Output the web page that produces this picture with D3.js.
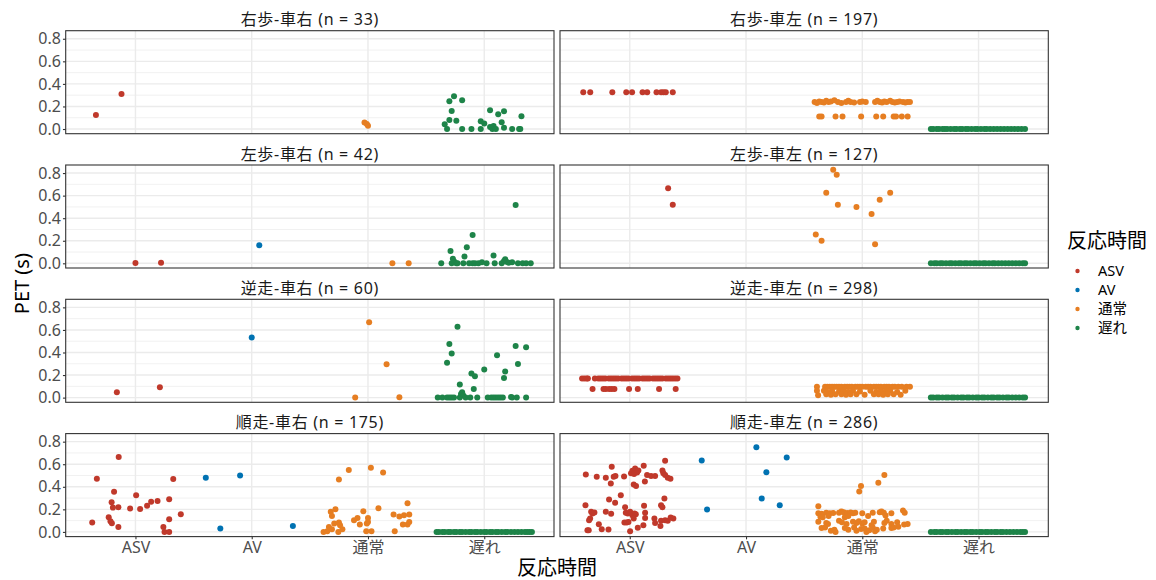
<!DOCTYPE html>
<html>
<head>
<meta charset="utf-8">
<script src="https://cdn.jsdelivr.net/npm/d3@7"></script>
<style>
  body { margin: 0; background: #fff; }
  text { font-family: "Noto Sans", "Noto Sans CJK JP", sans-serif; }
</style>
</head>
<body>
<script>
// categories / colours
const categories = ['ASV', 'AV', '通常', '遅れ']
const catColors = ['#C0392B', '#0072B2', '#E67E22', '#1E8449']
const yTicks = [0, 0.2, 0.4, 0.6, 0.8]
const yMinor = [0.1, 0.3, 0.5, 0.7]
const yMax = 0.83

const panelTitles = [
    '右歩-車右 (n = 33)', '右歩-車左 (n = 197)',
    '左歩-車右 (n = 42)', '左歩-車左 (n = 127)',
    '逆走-車右 (n = 60)', '逆走-車左 (n = 298)',
    '順走-車右 (n = 175)', '順走-車左 (n = 286)'
]

// points: [category index, jittered x position, PET]
const rwcr = [
    [0, 0.66, 0.125], [0, 0.88, 0.31],
    [2, 2.97, 0.057], [2, 2.99, 0.045], [2, 3.0, 0.03],
    [3, 3.66, 0.042], [3, 3.68, 0], [3, 3.70, 0.08], [3, 3.70, 0.247], [3, 3.72, 0.16],
    [3, 3.74, 0.29], [3, 3.76, 0.074], [3, 3.81, 0], [3, 3.81, 0.256], [3, 3.89, 0],
    [3, 3.97, 0], [3, 3.97, 0.068], [3, 4.0, 0.05], [3, 4.05, 0.167], [3, 4.05, 0.018],
    [3, 4.07, 0], [3, 4.08, 0.027], [3, 4.10, 0], [3, 4.12, 0.13], [3, 4.15, 0.06],
    [3, 4.17, 0.158], [3, 4.17, 0.012], [3, 4.24, 0], [3, 4.30, 0], [3, 4.31, 0], [3, 4.32, 0.113]
]

const rwclAsvX = [0.60, 0.66, 0.85, 0.97, 1.02, 1.11, 1.15, 1.23, 1.27, 1.29, 1.31, 1.37]
const rwclNormTop = [
    [2.59, 0.24], [2.61, 0.23], [2.63, 0.245], [2.65, 0.24], [2.67, 0.235], [2.69, 0.25],
    [2.71, 0.24], [2.73, 0.245], [2.76, 0.255], [2.79, 0.24], [2.82, 0.23], [2.86, 0.24],
    [2.88, 0.25], [2.90, 0.24], [2.93, 0.235], [2.98, 0.24], [3.00, 0.245], [3.03, 0.24],
    [3.11, 0.24], [3.13, 0.25], [3.15, 0.24], [3.17, 0.235], [3.19, 0.245], [3.21, 0.24],
    [3.24, 0.25], [3.26, 0.24], [3.28, 0.235], [3.30, 0.24], [3.32, 0.245], [3.35, 0.24],
    [3.37, 0.235], [3.39, 0.24], [3.41, 0.24]
]
const rwclNormLow = [2.63, 2.65, 2.77, 2.83, 2.99, 3.12, 3.18, 3.27, 3.29, 3.34, 3.39]
const rwclDelayX = [3.59, 3.61, 3.64, 3.66, 3.69, 3.71, 3.73, 3.76, 3.79, 3.81, 3.84, 3.86,
    3.89, 3.91, 3.94, 3.97, 3.99, 4.02, 4.05, 4.07, 4.10, 4.13, 4.16, 4.19, 4.22, 4.25,
    4.28, 4.31, 4.34, 4.37, 4.40]

const lwcr = [
    [0, 1.0, 0.003], [0, 1.22, 0.006],
    [1, 2.065, 0.16],
    [2, 3.21, 0], [2, 3.35, 0],
    [3, 3.63, 0], [3, 3.71, 0.11], [3, 3.72, 0], [3, 3.73, 0.04], [3, 3.74, 0.018],
    [3, 3.76, 0], [3, 3.77, 0], [3, 3.82, 0], [3, 3.83, 0.06], [3, 3.85, 0.142],
    [3, 3.87, 0], [3, 3.90, 0.252], [3, 3.90, 0], [3, 3.92, 0], [3, 3.95, 0],
    [3, 3.98, 0.01], [3, 4.02, 0], [3, 4.08, 0.07], [3, 4.09, 0], [3, 4.15, 0],
    [3, 4.17, 0.02], [3, 4.18, 0.035], [3, 4.19, 0.015], [3, 4.21, 0.006], [3, 4.24, 0.01],
    [3, 4.27, 0.516], [3, 4.29, 0], [3, 4.33, 0], [3, 4.36, 0], [3, 4.40, 0]
]

const lwcl = [
    [0, 1.33, 0.666], [0, 1.37, 0.52],
    [2, 2.75, 0.83], [2, 2.78, 0.785], [2, 2.69, 0.625], [2, 2.79, 0.52], [2, 2.95, 0.50],
    [2, 3.15, 0.563], [2, 3.24, 0.625], [2, 3.08, 0.437], [2, 2.60, 0.255], [2, 2.65, 0.20],
    [2, 3.11, 0.17]
]
const lwclDelayX = [3.59, 3.62, 3.64, 3.67, 3.69, 3.72, 3.75, 3.77, 3.80, 3.83, 3.85, 3.88,
    3.90, 3.93, 3.96, 3.98, 4.01, 4.04, 4.06, 4.09, 4.12, 4.14, 4.17, 4.20, 4.23, 4.26,
    4.29, 4.32, 4.35, 4.38, 4.40]

const bwcr = [
    [0, 0.84, 0.048], [0, 1.21, 0.092],
    [1, 2.0, 0.533],
    [2, 3.01, 0.667], [2, 3.16, 0.295], [2, 2.89, 0], [2, 3.27, 0.003],
    [3, 3.60, 0], [3, 3.64, 0], [3, 3.68, 0], [3, 3.70, 0], [3, 3.72, 0], [3, 3.74, 0],
    [3, 3.68, 0.31], [3, 3.70, 0.476], [3, 3.72, 0.39], [3, 3.77, 0.628], [3, 3.79, 0.116],
    [3, 3.79, 0], [3, 3.80, 0.033], [3, 3.81, 0.048], [3, 3.82, 0.018], [3, 3.84, 0],
    [3, 3.88, 0], [3, 3.89, 0.214], [3, 3.92, 0.19], [3, 3.91, 0.077], [3, 3.94, 0],
    [3, 4.0, 0.25], [3, 4.03, 0], [3, 4.06, 0], [3, 4.08, 0], [3, 4.11, 0.375],
    [3, 4.10, 0], [3, 4.12, 0], [3, 4.14, 0], [3, 4.16, 0], [3, 4.18, 0.232],
    [3, 4.17, 0.173], [3, 4.23, 0.006], [3, 4.24, 0], [3, 4.27, 0.458], [3, 4.28, 0],
    [3, 4.29, 0.298], [3, 4.36, 0.446], [3, 4.36, 0]
]

const bwclAsvTop = [0.59, 0.61, 0.63, 0.64, 0.70, 0.73, 0.75, 0.77, 0.79, 0.82, 0.84, 0.86,
    0.88, 0.90, 0.93, 0.95, 0.97, 0.99, 1.02, 1.04, 1.06, 1.08, 1.11, 1.13, 1.15, 1.17,
    1.20, 1.22, 1.24, 1.26, 1.28, 1.31, 1.33, 1.35, 1.37, 1.39, 1.41]
const bwclAsvLow = [0.68, 0.774, 0.794, 0.823, 0.845, 0.868, 0.994, 1.069, 1.252, 1.395]
const bwclNorm = [
    [2.61, 0.097], [2.61, 0.06], [2.62, 0.02],
    [2.68, 0.097], [2.70, 0.097], [2.72, 0.097], [2.74, 0.097], [2.76, 0.097], [2.78, 0.097],
    [2.80, 0.097], [2.82, 0.097], [2.85, 0.097], [2.87, 0.097], [2.89, 0.097], [2.91, 0.097],
    [2.94, 0.097], [2.96, 0.097], [2.98, 0.097], [3.00, 0.097], [3.03, 0.097], [3.05, 0.097],
    [3.07, 0.097], [3.10, 0.097], [3.12, 0.097], [3.14, 0.097], [3.16, 0.097], [3.19, 0.097],
    [3.21, 0.097], [3.23, 0.097], [3.26, 0.097], [3.28, 0.097], [3.31, 0.097], [3.34, 0.097],
    [3.38, 0.097], [3.41, 0.097],
    [2.67, 0.06], [2.70, 0.05], [2.74, 0.06], [2.80, 0.055], [2.84, 0.06], [2.88, 0.05],
    [2.92, 0.06], [2.98, 0.055], [3.07, 0.06], [3.12, 0.05], [3.16, 0.06], [3.20, 0.055],
    [3.24, 0.06], [3.30, 0.05], [3.37, 0.06],
    [2.69, 0.03], [2.73, 0.025], [2.77, 0.03], [2.82, 0.03], [2.86, 0.025], [2.90, 0.03],
    [2.95, 0.03], [3.02, 0.025], [3.10, 0.03], [3.14, 0.03], [3.18, 0.025], [3.22, 0.03],
    [3.27, 0.03], [3.33, 0.025]
]
const bwclDelayX = [3.59, 3.61, 3.64, 3.66, 3.69, 3.72, 3.74, 3.77, 3.79, 3.82, 3.85, 3.87,
    3.90, 3.92, 3.95, 3.98, 4.00, 4.03, 4.05, 4.08, 4.11, 4.13, 4.16, 4.18, 4.21, 4.24,
    4.26, 4.29, 4.32, 4.35, 4.38, 4.40]

const fwcr = [
    [0, 0.628, 0.083], [0, 0.668, 0.471], [0, 0.77, 0.13], [0, 0.785, 0.095], [0, 0.797, 0.077],
    [0, 0.795, 0.264], [0, 0.806, 0.216], [0, 0.816, 0.356], [0, 0.853, 0.219], [0, 0.853, 0.044],
    [0, 0.856, 0.664], [0, 0.954, 0.207], [0, 1.006, 0.326], [0, 1.04, 0.204], [0, 1.10, 0.231],
    [0, 1.135, 0.267], [0, 1.19, 0.273], [0, 1.24, 0.044], [0, 1.25, 0], [0, 1.29, 0],
    [0, 1.29, 0.29], [0, 1.29, 0.113], [0, 1.325, 0.468], [0, 1.39, 0.157],
    [1, 1.605, 0.48], [1, 1.73, 0.03], [1, 1.90, 0.50], [1, 2.354, 0.053],
    [2, 2.618, 0], [2, 2.65, 0.006], [2, 2.664, 0.044], [2, 2.68, 0.178], [2, 2.69, 0.142],
    [2, 2.72, 0.2], [2, 2.69, 0.024], [2, 2.71, 0.074], [2, 2.75, 0.465], [2, 2.745, 0],
    [2, 2.75, 0.083], [2, 2.76, 0.059], [2, 2.78, 0.024], [2, 2.835, 0.548], [2, 2.88, 0.104],
    [2, 2.91, 0.124], [2, 2.93, 0.065], [2, 2.96, 0.184], [2, 2.985, 0.006], [2, 3.0, 0.089],
    [2, 3.0, 0.124], [2, 2.99, 0.074], [2, 3.025, 0.569], [2, 3.03, 0.006], [2, 3.09, 0.21],
    [2, 3.13, 0.527], [2, 3.22, 0.154], [2, 3.23, 0.006], [2, 3.27, 0.136], [2, 3.30, 0.065],
    [2, 3.31, 0.148], [2, 3.34, 0.255], [2, 3.355, 0.154], [2, 3.34, 0.065], [2, 3.355, 0.089]
]
const fwcrDelayX = [3.59, 3.61, 3.64, 3.66, 3.69, 3.71, 3.74, 3.76, 3.79, 3.81, 3.84, 3.87,
    3.89, 3.92, 3.94, 3.97, 4.00, 4.02, 4.05, 4.07, 4.10, 4.12, 4.15, 4.18, 4.20, 4.23,
    4.26, 4.29, 4.32, 4.35, 4.37, 4.39, 4.41]

const fwcl = [
    [1, 1.619, 0.634], [1, 1.665, 0.199], [1, 2.089, 0.75], [1, 2.135, 0.296],
    [1, 2.175, 0.53], [1, 2.29, 0.237], [1, 2.35, 0.66],
    [0, 0.622, 0.51], [0, 0.716, 0.489], [0, 0.794, 0.48], [0, 0.845, 0.578], [0, 0.837, 0.43],
    [0, 0.862, 0.489], [0, 0.877, 0.495], [0, 0.951, 0.492], [0, 1.011, 0.519], [0, 1.023, 0.542],
    [0, 1.037, 0.513], [0, 1.046, 0.563], [0, 1.063, 0.527], [0, 1.074, 0.545], [0, 1.12, 0.587],
    [0, 1.13, 0.447], [0, 1.034, 0.42], [0, 1.054, 0.406], [0, 1.149, 0.504], [0, 1.183, 0.495],
    [0, 1.218, 0.495], [0, 1.281, 0.545], [0, 1.304, 0.631], [0, 1.289, 0.519], [0, 1.304, 0.504],
    [0, 1.327, 0.48], [0, 1.35, 0.471],
    [0, 0.619, 0.237], [0, 0.923, 0.326], [0, 0.822, 0.287], [0, 0.874, 0.258], [0, 0.668, 0.178],
    [0, 0.679, 0.163], [0, 0.696, 0.172], [0, 0.659, 0.119], [0, 0.65, 0.104], [0, 0.734, 0.068],
    [0, 0.794, 0.178], [0, 0.84, 0.16], [0, 0.759, 0.024], [0, 0.817, 0.021], [0, 0.636, 0.015],
    [0, 0.647, 0.015], [0, 0.96, 0.219], [0, 0.966, 0.169], [0, 0.983, 0.163], [0, 1.003, 0.178],
    [0, 1.023, 0.148], [0, 1.04, 0.163], [0, 1.052, 0.157], [0, 1.034, 0.119], [0, 0.954, 0.083],
    [0, 0.974, 0.083], [0, 0.989, 0.089], [0, 1.003, 0.006], [0, 1.069, 0.036], [0, 1.117, 0.059],
    [0, 1.123, 0.231], [0, 1.132, 0.169], [0, 1.132, 0.124], [0, 1.212, 0.119], [0, 1.218, 0.08],
    [0, 1.264, 0.053], [0, 1.269, 0.098], [0, 1.269, 0.237], [0, 1.281, 0.219], [0, 1.298, 0.296],
    [0, 1.304, 0.104], [0, 1.327, 0.098], [0, 1.352, 0.127], [0, 1.375, 0.119],
    [2, 3.19, 0.504], [2, 3.138, 0.436], [2, 2.989, 0.406], [2, 2.974, 0.359], [2, 2.622, 0.228],
    [2, 2.622, 0.165], [2, 2.65, 0.16], [2, 2.69, 0.17], [2, 2.72, 0.165], [2, 2.75, 0.168],
    [2, 2.80, 0.17], [2, 2.82, 0.18], [2, 2.84, 0.175], [2, 2.87, 0.168], [2, 2.90, 0.172],
    [2, 2.92, 0.165], [2, 2.94, 0.17], [2, 3.0, 0.165], [2, 3.09, 0.17], [2, 3.15, 0.175],
    [2, 3.165, 0.18], [2, 3.185, 0.17], [2, 3.25, 0.165], [2, 3.35, 0.19], [2, 3.365, 0.17],
    [2, 2.64, 0.135], [2, 2.66, 0.13], [2, 2.71, 0.14], [2, 2.85, 0.13], [2, 2.88, 0.14],
    [2, 3.05, 0.14], [2, 3.20, 0.145],
    [2, 2.622, 0.09], [2, 2.69, 0.08], [2, 2.705, 0.07], [2, 2.80, 0.1], [2, 2.825, 0.085],
    [2, 2.865, 0.07], [2, 2.92, 0.09], [2, 2.95, 0.08], [2, 2.97, 0.095], [2, 3.0, 0.075],
    [2, 3.02, 0.085], [2, 3.08, 0.06], [2, 3.10, 0.09], [2, 3.19, 0.08], [2, 3.21, 0.1],
    [2, 3.25, 0.07], [2, 3.30, 0.085], [2, 3.36, 0.065], [2, 3.39, 0.07],
    [2, 2.65, 0.035], [2, 2.68, 0.04], [2, 2.73, 0.01], [2, 2.76, 0.02], [2, 2.77, 0.0],
    [2, 2.85, 0.035], [2, 2.88, 0.02], [2, 2.93, 0.04], [2, 2.95, 0.01], [2, 2.99, 0.025],
    [2, 3.02, 0.03], [2, 3.035, 0.0], [2, 3.06, 0.015], [2, 3.09, 0.04], [2, 3.11, 0.005],
    [2, 3.125, 0.02], [2, 3.18, 0.03], [2, 3.25, 0.035], [2, 3.27, 0.04], [2, 3.31, 0.045]
]
const fwclDelayX = [3.59, 3.62, 3.64, 3.67, 3.69, 3.72, 3.74, 3.77, 3.80, 3.82, 3.85, 3.88,
    3.90, 3.93, 3.95, 3.98, 4.01, 4.03, 4.06, 4.08, 4.11, 4.14, 4.16, 4.19, 4.21, 4.24,
    4.27, 4.30, 4.33, 4.36, 4.38, 4.40]

// build panel tables from the arrays above
const panelData = [
    rwcr,
    rwclAsvX.map(x => [0, x, 0.325])
        .concat(rwclNormTop.map(d => [2, d[0], d[1]]))
        .concat(rwclNormLow.map(x => [2, x, 0.11]))
        .concat(rwclDelayX.map(x => [3, x, 0])),
    lwcr,
    lwcl.concat(lwclDelayX.map(x => [3, x, 0])),
    bwcr,
    bwclAsvTop.map(x => [0, x, 0.17])
        .concat(bwclAsvLow.map(x => [0, x, 0.077]))
        .concat(bwclNorm.map(d => [2, d[0], d[1]]))
        .concat(bwclDelayX.map(x => [3, x, 0])),
    fwcr.concat(fwcrDelayX.map(x => [3, x, 0])),
    fwcl.concat(fwclDelayX.map(x => [3, x, 0]))
]

const m = { width: 1156, height: 580 }
const colX = [65.7, 560]
const panelW = 488.3
const panelH = 103
const rowTop = r => 30.7 + r * 134.3

const svg = d3.select('body').append('svg')
    .attr('width', m.width)
    .attr('height', m.height)

const yPad = yMax * 0.05

panelData.forEach((pts, i) => {
    const row = Math.floor(i / 2), col = i % 2
    const x0 = colX[col], y0 = rowTop(row)

    const x = d3.scaleLinear().domain([0.4, 4.6]).range([x0, x0 + panelW])
    const y = d3.scaleLinear().domain([-yPad, yMax + yPad]).range([y0 + panelH, y0])

    const g = svg.append('g')

    // minor grid
    g.selectAll('.minor').data(yMinor).enter().append('line')
        .attr('x1', x0).attr('x2', x0 + panelW)
        .attr('y1', d => y(d)).attr('y2', d => y(d))
        .attr('stroke', '#EBEBEB').attr('stroke-width', 0.7)
    // major grid
    g.selectAll('.hmajor').data(yTicks).enter().append('line')
        .attr('x1', x0).attr('x2', x0 + panelW)
        .attr('y1', d => y(d)).attr('y2', d => y(d))
        .attr('stroke', '#EBEBEB').attr('stroke-width', 1.4)
    g.selectAll('.vmajor').data([1, 2, 3, 4]).enter().append('line')
        .attr('x1', d => x(d)).attr('x2', d => x(d))
        .attr('y1', y0).attr('y2', y0 + panelH)
        .attr('stroke', '#EBEBEB').attr('stroke-width', 1.4)

    // points
    g.selectAll('circle').data(pts).enter().append('circle')
        .attr('cx', d => x(d[1]))
        .attr('cy', d => y(d[2]))
        .attr('r', 3)
        .attr('fill', d => catColors[d[0]])

    // border
    g.append('rect')
        .attr('x', x0).attr('y', y0)
        .attr('width', panelW).attr('height', panelH)
        .attr('fill', 'none').attr('stroke', '#333333').attr('stroke-width', 1.1)

    // strip title
    svg.append('text')
        .attr('x', x0 + panelW / 2)
        .attr('y', y0 - 5.5)
        .attr('text-anchor', 'middle')
        .style('font-size', '16px')
        .style('letter-spacing', '0.7px')
        .attr('fill', '#1A1A1A')
        .text(panelTitles[i])

    if (col === 0) {
        const ax = svg.append('g')
            .attr('transform', `translate(${x0},0)`)
            .call(d3.axisLeft(y).tickValues(yTicks).tickFormat(d3.format('.1f')).tickSize(2.75).tickPadding(2))
        ax.select('.domain').remove()
        ax.selectAll('line').attr('stroke', '#333333').attr('stroke-width', 1.1)
        ax.selectAll('text').style('font-size', '16px').attr('fill', '#4D4D4D')
            .style('font-family', '"Noto Sans", "Noto Sans CJK JP", sans-serif')
    }
    if (row === 3) {
        const ax = svg.append('g')
            .attr('transform', `translate(0,${y0 + panelH})`)
            .call(d3.axisBottom(x).tickValues([1, 2, 3, 4]).tickFormat(d => categories[d - 1]).tickSize(2.75).tickPadding(2.5))
        ax.select('.domain').remove()
        ax.selectAll('line').attr('stroke', '#333333').attr('stroke-width', 1.1)
        ax.selectAll('text').style('font-size', '16px').attr('fill', '#4D4D4D')
            .style('font-family', '"Noto Sans", "Noto Sans CJK JP", sans-serif')
    }
})

// axis titles
svg.append('text')
    .attr('transform', `translate(21,${(rowTop(0) + rowTop(3) + panelH) / 2}) rotate(-90)`)
    .attr('text-anchor', 'middle')
    .attr('dominant-baseline', 'central')
    .style('font-size', '20px')
    .text('PET (s)')

svg.append('text')
    .attr('x', (colX[0] + colX[1] + panelW) / 2)
    .attr('y', 575)
    .attr('text-anchor', 'middle')
    .style('font-size', '20px')
    .text('反応時間')

// legend
const legend = svg.append('g')
legend.append('text')
    .attr('x', 1067)
    .attr('y', 248)
    .style('font-size', '20px')
    .text('反応時間')

legend.selectAll('circle').data(categories).enter().append('circle')
    .attr('cx', 1077.5)
    .attr('cy', (d, i) => 271 + i * 19)
    .attr('r', 2.2)
    .attr('fill', (d, i) => catColors[i])

legend.selectAll('.lab').data(categories).enter().append('text')
    .attr('x', 1098)
    .attr('y', (d, i) => 271 + i * 19 + 5)
    .style('font-size', '14.5px')
    .text(d => d)
</script>
</body>
</html>
